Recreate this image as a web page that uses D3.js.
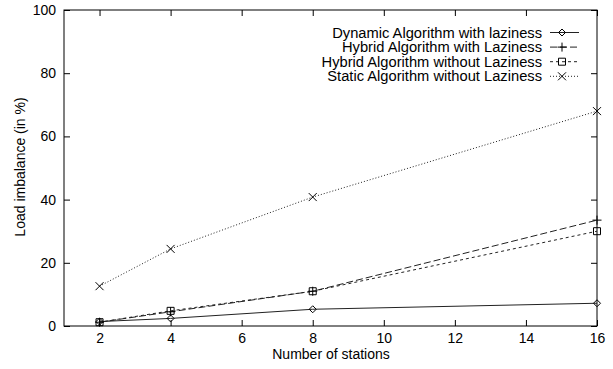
<!DOCTYPE html>
<html><head><meta charset="utf-8">
<script src="https://cdn.jsdelivr.net/npm/d3@7"></script>
<style>body{margin:0;background:#fff}svg{display:block}text{font-family:"Liberation Sans",Arial,sans-serif;fill:#000}</style>
</head><body><svg id="c" width="613" height="369"></svg>
<script>
const stations = [2, 4, 8, 16];
const dynamicLazy = [1.4, 2.4, 5.3, 7.2];
const hybridLazy = [1.2, 4.5, 11.0, 33.5];
const hybridNoLazy = [1.2, 4.8, 11.0, 30.0];
const staticNoLazy = [12.6, 24.4, 40.8, 68.0];
const xTicks = [2, 4, 6, 8, 10, 12, 14, 16];
const yTicks = [0, 20, 40, 60, 80, 100];
const seriesNames = ["Dynamic Algorithm with laziness", "Hybrid Algorithm with Laziness", "Hybrid Algorithm without Laziness", "Static Algorithm without Laziness"];

const series = [
  {name: seriesNames[0], values: dynamicLazy, dash: null, marker: "diamond"},
  {name: seriesNames[1], values: hybridLazy, dash: "7,3", marker: "plus"},
  {name: seriesNames[2], values: hybridNoLazy, dash: "3,3", marker: "square"},
  {name: seriesNames[3], values: staticNoLazy, dash: "1,2", marker: "cross"}
];

const svg = d3.select("#c");
const L = 64, R = 597, T = 10, B = 326;
const x = d3.scaleLinear().domain([1, 16]).range([L, R]);
const y = d3.scaleLinear().domain([0, 100]).range([B, T]);

function marker(g, type, cx, cy) {
  const s = 3.5;
  let d;
  if (type === "diamond") d = `M${cx},${cy-s}L${cx+s},${cy}L${cx},${cy+s}L${cx-s},${cy}Z`;
  else if (type === "plus") d = `M${cx-4.5},${cy}H${cx+4.5}M${cx},${cy-4.5}V${cy+4.5}`;
  else if (type === "square") d = `M${cx-3.5},${cy-3.5}h7v7h-7Z`;
  else d = `M${cx-4},${cy-4}L${cx+4},${cy+4}M${cx-4},${cy+4}L${cx+4},${cy-4}`;
  g.append("path").attr("d", d).attr("fill", "none").attr("stroke", "#000").attr("stroke-width", 1);
}

const ax = g => g.attr("font-size", 14).attr("font-family", "Liberation Sans, Arial, sans-serif");
svg.append("g").attr("transform", `translate(0,${B})`)
  .call(d3.axisBottom(x).tickValues(xTicks).tickSizeInner(-6).tickSizeOuter(0).tickPadding(7))
  .call(ax).call(g => g.select(".domain").remove());
svg.append("g").attr("transform", `translate(0,${T})`)
  .call(d3.axisTop(x).tickValues(xTicks).tickSizeInner(-6).tickSizeOuter(0).tickFormat(""))
  .call(g => g.select(".domain").remove());
svg.append("g").attr("transform", `translate(${L},0)`)
  .call(d3.axisLeft(y).tickValues(yTicks).tickSizeInner(-6).tickSizeOuter(0).tickPadding(8))
  .call(ax).call(g => g.select(".domain").remove());
svg.append("g").attr("transform", `translate(${R},0)`)
  .call(d3.axisRight(y).tickValues(yTicks).tickSizeInner(-6).tickSizeOuter(0).tickFormat(""))
  .call(g => g.select(".domain").remove());
svg.selectAll(".tick line").attr("stroke", "#000");

svg.append("rect").attr("x", L).attr("y", T).attr("width", R - L).attr("height", B - T)
  .attr("fill", "none").attr("stroke", "#000").attr("stroke-width", 1);

const line = d3.line().x(d => x(d[0])).y(d => y(d[1]));
series.forEach(s => {
  const pts = stations.map((st, i) => [st, s.values[i]]);
  svg.append("path").datum(pts).attr("d", line).attr("fill", "none")
    .attr("stroke", "#222").attr("stroke-width", 1).attr("stroke-dasharray", s.dash);
  const g = svg.append("g");
  pts.forEach(p => marker(g, s.marker, x(p[0]), y(p[1])));
});

series.forEach((s, i) => {
  const ly = 32.5 + i * 14.6;
  svg.append("text").attr("x", 542).attr("y", ly).attr("dy", "0.35em").attr("text-anchor", "end")
    .attr("font-size", 14.7).text(s.name);
  svg.append("line").attr("x1", 550).attr("x2", 579).attr("y1", ly).attr("y2", ly)
    .attr("stroke", "#222").attr("stroke-width", 1).attr("stroke-dasharray", s.dash);
  marker(svg.append("g"), s.marker, 562, ly);
});

svg.append("text").attr("x", 331).attr("y", 359).attr("text-anchor", "middle").attr("font-size", 14).text("Number of stations");
svg.append("text").attr("transform", "translate(25,167) rotate(-90)").attr("text-anchor", "middle").attr("font-size", 14).text("Load imbalance (in %)");
</script></body></html>
